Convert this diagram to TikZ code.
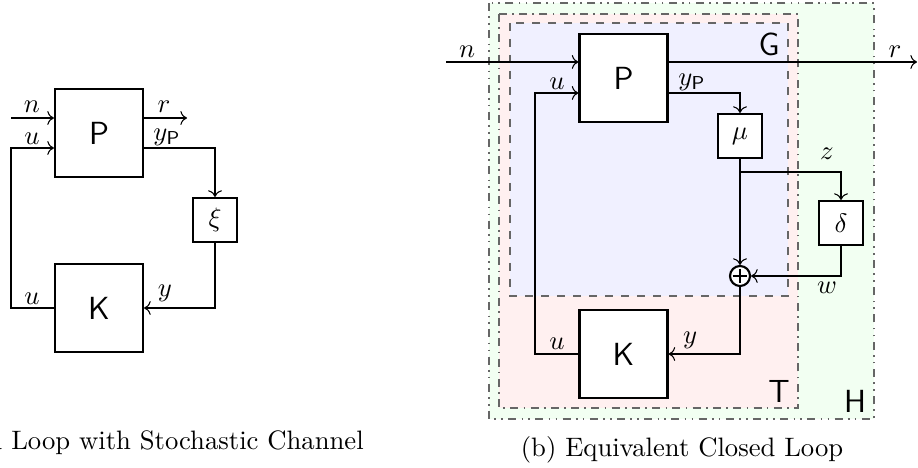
\documentclass[tikz,border=0pt]{standalone}
\usepackage{amsmath,amssymb,amsfonts}
\usepackage{xcolor}
\usepackage{tikz}
\usetikzlibrary{arrows.meta,positioning}

\begin{document}
\begin{tikzpicture}[
    x=0.375pt, y=-0.375pt,
    sys/.style={draw, thick, fill=white, minimum size=33pt, inner sep=0pt, font=\sffamily\large},
    chan/.style={draw, thick, fill=white, minimum size=16.5pt, inner sep=0pt},
    sumnode/.style={draw, thick, circle, fill=white, minimum size=7.5pt, inner sep=0pt},
    sig/.style={->},
    frame/.style={draw=black!60, semithick},
    tag/.style={font=\sffamily\large, inner sep=0pt}
]
\useasboundingbox (0,0) rectangle (918,468);
\clip (0,0) rectangle (918,468);

\node[sys] (pa) at (99,133) {P};
\node[sys] (ka) at (99,308) {K};
\node[chan] (xi) at (215,220) {$\xi$};
\coordinate (nin) at (11,118);
\coordinate (uin) at (11,148);
\coordinate (rout) at (187,118);
\draw[sig] (nin) -- (nin -| pa.west);
\draw[sig] (rout -| pa.east) -- (rout);
\draw[sig] (uin -| pa.east) -| (xi.north);
\draw[sig] (xi.south) |- (ka.east);
\draw[sig] (ka.west) -| (uin) -- (uin -| pa.west);
\node (ln) at (32,107) {$n$};
\node (lu) at (32,139) {$u$};
\node (lr) at (164,107) {$r$};
\node (lyp) at (167,137) {$y_{\mathsf{P}}$};
\node (ly) at (165,293) {$y$};
\node (lu2) at (32,299) {$u$};
\node (capa) at (123,443) {(a) Closed Loop with Stochastic Channel};

\path[frame, fill=green!5, dash dot dot] (489,3) rectangle (874,419);
\path[frame, fill=red!6, dash dot] (499,14) rectangle (798,408);
\path[frame, fill=blue!6, dashed] (510,23) rectangle (788,296);
\node[tag] (tg) at (769,44) {G};
\node[tag] (tt) at (779,391) {T};
\node[tag] (th) at (855,401) {H};

\node[sys] (pb) at (623.5,78) {P};
\node[sys] (kb) at (623.5,354) {K};
\node[chan] (mu) at (740,136) {$\mu$};
\node[chan] (dl) at (841,223) {$\delta$};
\node[sumnode] (sm) at (740,276) {};
\draw[shorten >=1.4pt, shorten <=1.4pt] (sm.north) -- (sm.south);
\draw[shorten >=1.4pt, shorten <=1.4pt] (sm.west) -- (sm.east);
\coordinate (nin2) at (446,62);
\coordinate (uin2) at (535,93);
\coordinate (rout2) at (917,62);
\coordinate (zb) at (740,172);
\draw[sig] (nin2) -- (nin2 -| pb.west);
\draw[sig] (rout2 -| pb.east) -- (rout2);
\draw[sig] (uin2 -| pb.east) -| (mu.north);
\draw[sig] (mu.south) -- (sm.north);
\draw[sig] (zb) -| (dl.north);
\draw[sig] (dl.south) |- (sm.east);
\draw[sig] (sm.south) |- (kb.east);
\draw[sig] (kb.west) -| (uin2) -- (uin2 -| pb.west);
\node (ln2) at (467,52) {$n$};
\node (lr2) at (895,52) {$r$};
\node (lu3) at (557,84) {$u$};
\node (lyp2) at (692,82) {$y_{\mathsf{P}}$};
\node (lz) at (827,154) {$z$};
\node (lw) at (827,288) {$w$};
\node (ly2) at (690,340) {$y$};
\node (lu4) at (557,344) {$u$};
\node (capb) at (682,450) {(b) Equivalent Closed Loop};
\end{tikzpicture}
\end{document}
